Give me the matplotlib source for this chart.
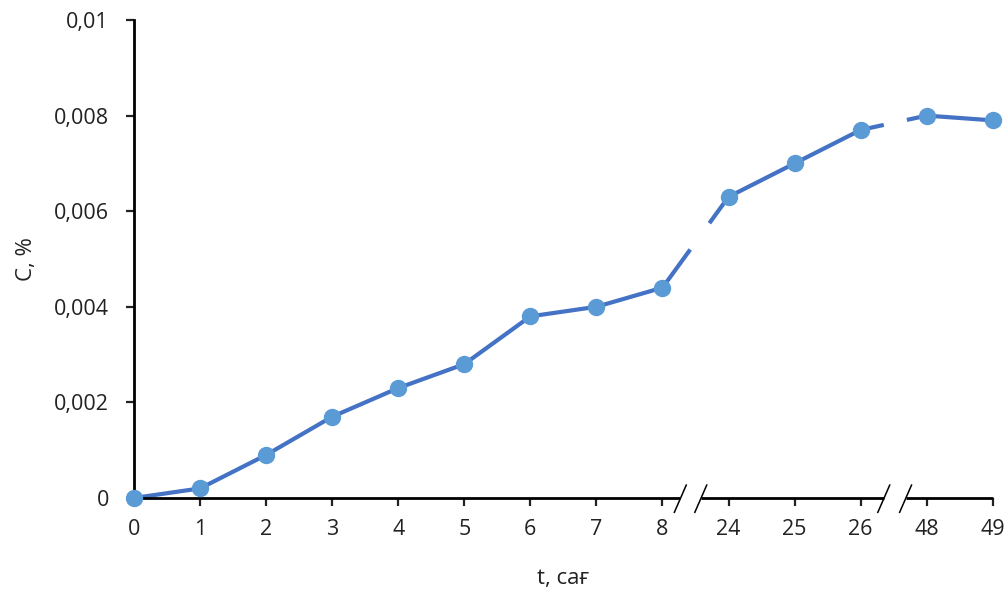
import numpy as np
import matplotlib.pyplot as plt
from matplotlib.ticker import FuncFormatter
import matplotlib.transforms as mtransforms

hours = ["0", "1", "2", "3", "4", "5", "6", "7", "8", "24", "25", "26", "48", "49"]
conc = [0, 0.0002, 0.0009, 0.0017, 0.0023, 0.0028, 0.0038, 0.004, 0.0044,
        0.0063, 0.007, 0.0077, 0.008, 0.0079]
# axis breaks: (index of segment start, gap start fraction, gap end fraction)
line_breaks = [(8, 0.42, 0.71), (11, 0.35, 0.70)]
axis_breaks = [(8, 0.27, 0.58), (11, 0.35, 0.68)]

plt.rcParams["font.family"] = ["Open Sans", "DejaVu Sans"]
fig = plt.figure(figsize=(10.08, 5.92), dpi=100)
ax = fig.add_axes([0.1329, 0.1588, 0.852, 0.8074])

x = np.arange(len(hours), dtype=float)
y = np.array(conc)

# split line at the breaks
xs, ys = [], []
prev = 0
for i, f0, f1 in line_breaks:
    xs += list(x[prev:i + 1]) + [i + f0, np.nan, i + f1]
    ys += list(y[prev:i + 1]) + [y[i] + f0 * (y[i + 1] - y[i]), np.nan,
                                 y[i] + f1 * (y[i + 1] - y[i])]
    prev = i + 1
xs += list(x[prev:])
ys += list(y[prev:])

ax.plot(xs, ys, color="#4472C4", lw=3, solid_capstyle="butt", zorder=2, clip_on=False)
ax.plot(x, y, "o", color="#5B9BD5", ms=11.5, zorder=3, clip_on=False)

ax.set_xlim(0, 13)
ax.set_ylim(0, 0.01)
ax.set_yticks(np.arange(0, 0.0101, 0.002))
ax.yaxis.set_major_formatter(FuncFormatter(
    lambda v, p: "0" if abs(v) < 1e-12 else ("%g" % round(v, 4)).replace(".", ",")))
ax.set_xticks(x)
ax.set_xticklabels(hours)
ax.tick_params(labelsize=15.5, length=6, width=1.6, direction="out", colors="#222222")
ax.tick_params(axis="y", pad=12)
ax.tick_params(axis="x", pad=9)

for s in ["top", "right", "bottom"]:
    ax.spines[s].set_visible(False)
ax.spines["left"].set_linewidth(2)

# bottom axis with breaks
trans = mtransforms.blended_transform_factory(ax.transData, ax.transAxes)
segs = []
start = 0
for i, f0, f1 in axis_breaks:
    segs.append((start, i + f0))
    start = i + f1
segs.append((start, 13))
for a, b in segs:
    ax.plot([a, b], [0, 0], color="black", lw=2, transform=trans, clip_on=False,
            solid_capstyle="butt")
for i, f0, f1 in axis_breaks:
    for f in (f0, f1):
        ax.plot([i + f - 0.09, i + f + 0.09], [-0.03, 0.027], color="black", lw=1.1,
                transform=trans, clip_on=False)

ax.set_xlabel("t, сағ", fontsize=16, labelpad=20, color="#222222")
ax.set_ylabel("C, %", fontsize=16, labelpad=12, color="#222222")

fig.savefig("out.png", dpi=100)
